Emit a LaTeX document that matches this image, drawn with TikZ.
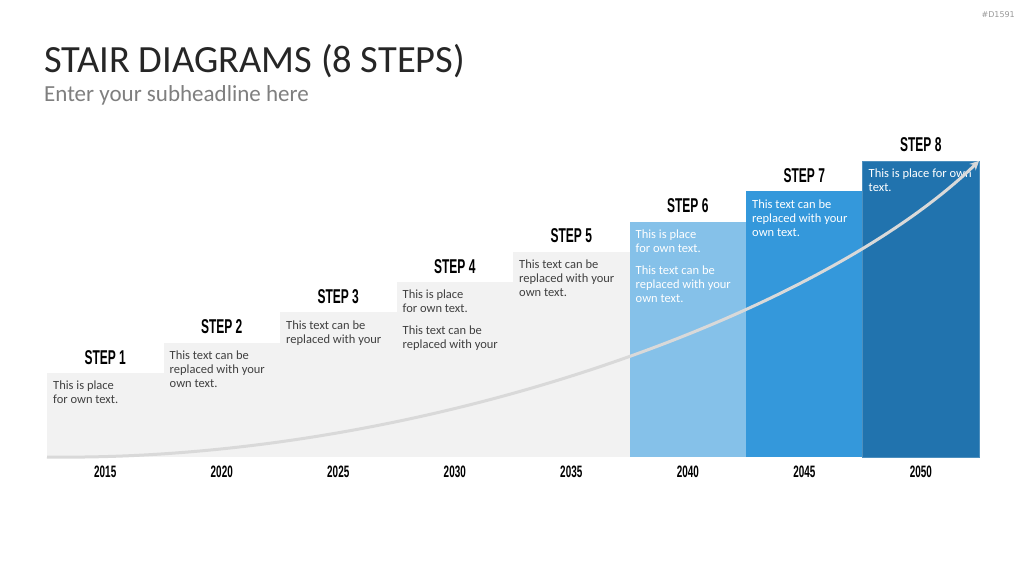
\documentclass[tikz,border=0pt]{standalone}
\usepackage{fontspec}
\setmainfont{Carlito}
\newfontfamily\stepfont[FakeStretch=0.6]{Liberation Sans}
\newfontfamily\tagfont{DejaVu Sans}
\usetikzlibrary{arrows.meta}
\definecolor{barg}{HTML}{F2F2F2}
\definecolor{bsix}{HTML}{85C1E9}
\definecolor{bseven}{HTML}{3498DB}
\definecolor{beight}{HTML}{2173AE}
\definecolor{txt}{HTML}{404040}
\definecolor{ttl}{HTML}{262626}
\definecolor{subc}{HTML}{7F7F7F}
\definecolor{crv}{HTML}{D9D9D9}
\begin{document}
\begin{tikzpicture}[x=1pt,y=-1pt,
  bar/.style={anchor=south west,inner sep=0,outer sep=0,minimum width=116.5pt,draw=none},
  steplbl/.style={anchor=base,inner sep=0,font=\stepfont\bfseries\fontsize{20}{22}\selectfont,text=black},
  yearlbl/.style={anchor=base,inner sep=0,font=\stepfont\bfseries\fontsize{16.5}{18}\selectfont,text=black},
  body/.style={anchor=north west,inner sep=0,align=left,font=\fontsize{12.5}{14}\selectfont,text=txt},
  bodyw/.style={body,text=white},
  curve/.style={draw=crv,line width=3pt,-{Stealth[length=9pt,width=9pt]}}]
\useasboundingbox (0,0) rectangle (1024,576);
\fill[white] (0,0) rectangle (1024,576);

\node[anchor=base east,inner sep=0,font=\tagfont\fontsize{8}{10}\selectfont,text=black!40] (tag) at (1015,17) {\#D1591};
\node[anchor=base west,inner sep=0,font=\fontsize{38.5}{42}\selectfont,text=ttl] (title) at (44,72) {STAIR DIAGRAMS (8 STEPS)};
\node[anchor=base west,inner sep=0,font=\fontsize{23}{26}\selectfont,text=subc] (sub) at (44,101) {Enter your subheadline here};

\node[bar,fill=barg,minimum height=84pt] (b1) at (47,457) {};
\node[bar,fill=barg,minimum height=114.3pt] (b2) at (163.5,457) {};
\node[bar,fill=barg,minimum height=144.6pt] (b3) at (280,457) {};
\node[bar,fill=barg,minimum height=174.9pt] (b4) at (396.5,457) {};
\node[bar,fill=barg,minimum height=205.2pt] (b5) at (513,457) {};
\node[bar,fill=bsix,minimum height=235.5pt] (b6) at (629.5,457) {};
\node[bar,fill=bseven,minimum height=265.8pt] (b7) at (746,457) {};
\node[bar,fill=beight,draw=beight!80!white,line width=0.8pt,minimum height=296.1pt] (b8) at (862.5,457) {};

\foreach \i in {1,...,8}{
  \node[steplbl] (s\i) at ([yshift=9pt]b\i.north) {STEP \i};
}
\node[yearlbl] (y1) at ([yshift=-20pt]b1.south) {2015};
\node[yearlbl] (y2) at ([yshift=-20pt]b2.south) {2020};
\node[yearlbl] (y3) at ([yshift=-20pt]b3.south) {2025};
\node[yearlbl] (y4) at ([yshift=-20pt]b4.south) {2030};
\node[yearlbl] (y5) at ([yshift=-20pt]b5.south) {2035};
\node[yearlbl] (y6) at ([yshift=-20pt]b6.south) {2040};
\node[yearlbl] (y7) at ([yshift=-20pt]b7.south) {2045};
\node[yearlbl] (y8) at ([yshift=-20pt]b8.south) {2050};

\node[body] (t1) at ([xshift=6pt,yshift=-8pt]b1.north west) {This is place\\for own text.};
\node[body] (t2) at ([xshift=6pt,yshift=-8pt]b2.north west) {This text can be\\replaced with your\\own text.};
\node[body] (t3) at ([xshift=6pt,yshift=-8pt]b3.north west) {This text can be\\replaced with your};
\node[body] (t4) at ([xshift=6pt,yshift=-8pt]b4.north west) {This is place\\for own text.\\[8pt]This text can be\\replaced with your};
\node[body] (t5) at ([xshift=6pt,yshift=-8pt]b5.north west) {This text can be\\replaced with your\\own text.};
\node[bodyw] (t6) at ([xshift=6pt,yshift=-8pt]b6.north west) {This is place\\for own text.\\[8pt]This text can be\\replaced with your\\own text.};
\node[bodyw] (t7) at ([xshift=6pt,yshift=-8pt]b7.north west) {This text can be\\replaced with your\\own text.};
\node[bodyw] (t8) at ([xshift=6pt,yshift=-8pt]b8.north west) {This is place for own\\text.};

\draw[curve] (b1.south west) .. controls (420,462) and (820,315) .. (b8.north east);
\end{tikzpicture}
\end{document}
